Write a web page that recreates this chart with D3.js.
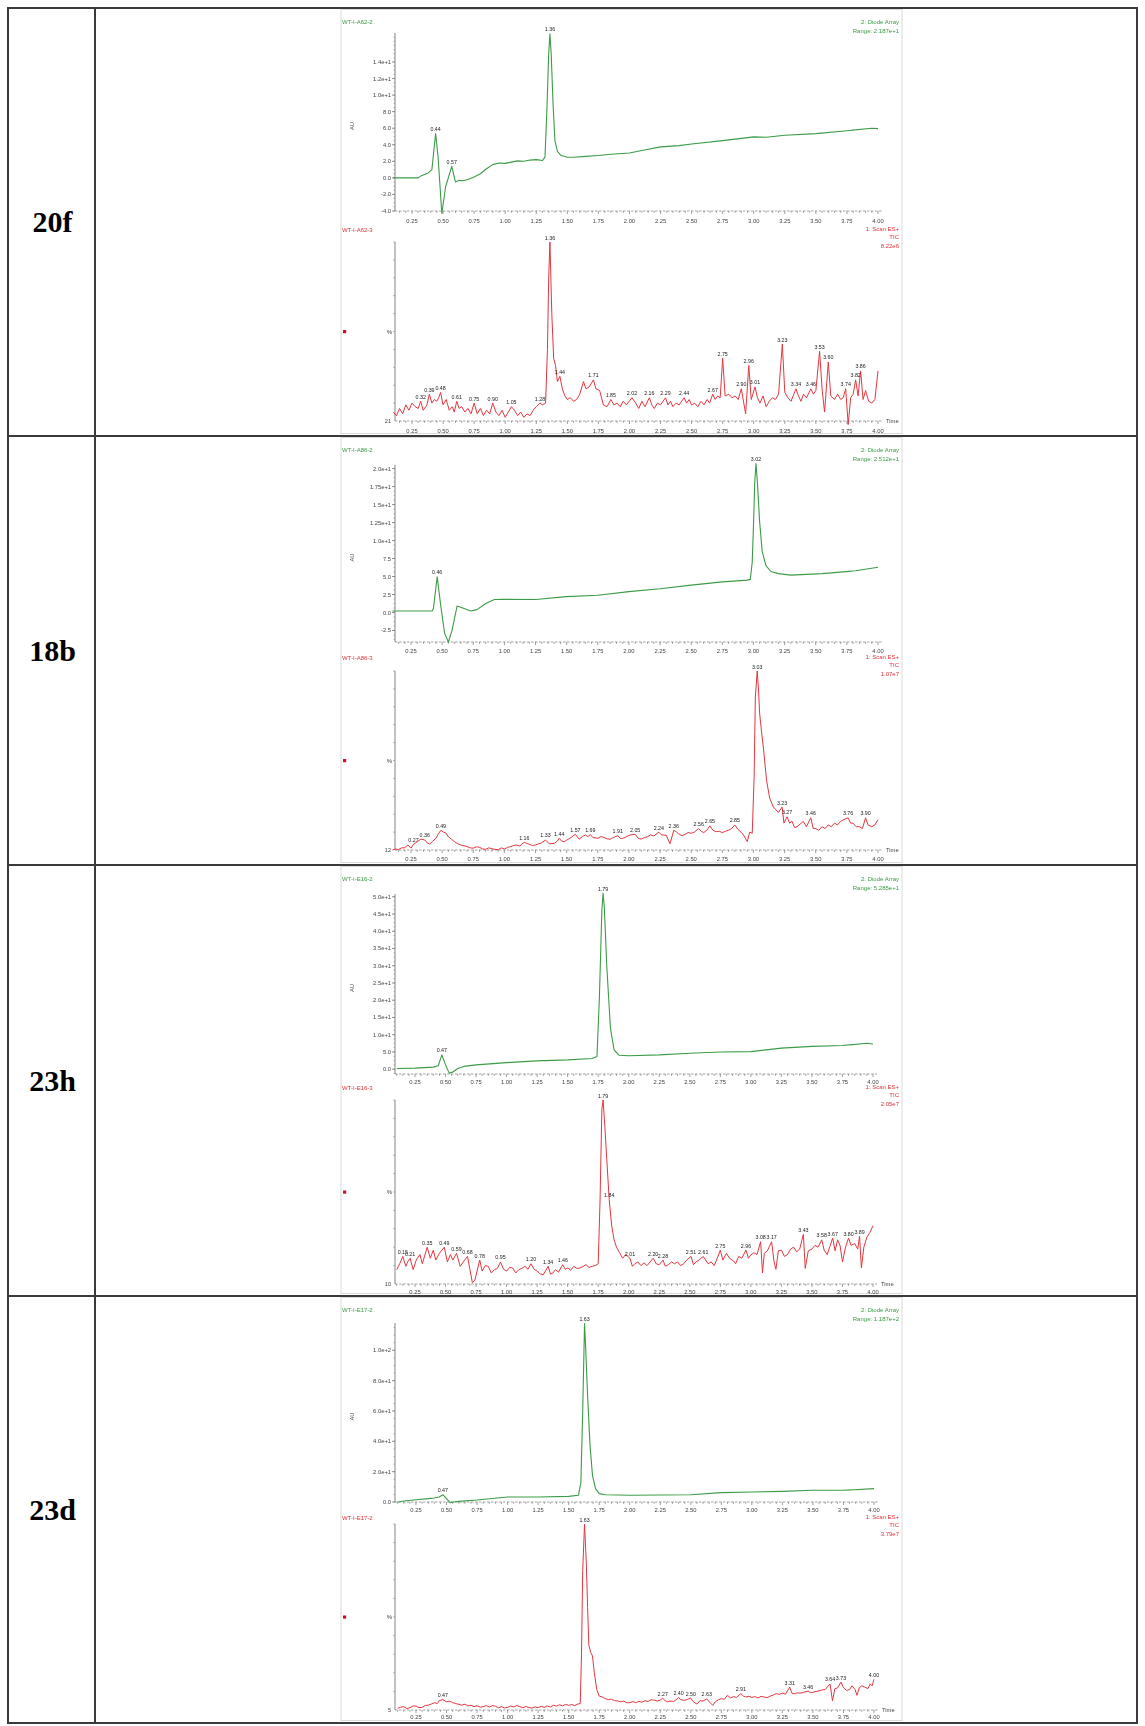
<!DOCTYPE html>
<html>
<head>
<meta charset="utf-8">
<script src="https://cdn.jsdelivr.net/npm/d3@7"></script>
<style>
  html, body { margin: 0; padding: 0; background: #fff; }
  svg { display: block; }
</style>
</head>
<body>
<svg id="fig" width="1145" height="1726"></svg>
<script>
// ---------------- data ----------------
const compounds = ["20f", "18b", "23h", "23d"];
const uvNames  = ["WT-I-A62-2", "WT-I-A86-2", "WT-I-E16-2", "WT-I-E17-2"];
const ticNames = ["WT-I-A62-3", "WT-I-A86-3", "WT-I-E16-3", "WT-I-E17-2"];
const uvRanges = ["2.187e+1", "2.512e+1", "5.285e+1", "1.187e+2"];
const ticMaxima = ["8.22e6", "1.07e7", "2.05e7", "3.79e7"];
const ticMinima = ["21", "12", "10", "5"];

const timeTicks = [0.25, 0.50, 0.75, 1.00, 1.25, 1.50, 1.75, 2.00, 2.25, 2.50, 2.75, 3.00, 3.25, 3.50, 3.75, 4.00];

// UV (diode array) axis ticks
const uvTicks20f = [14, 12, 10, 8, 6, 4, 2, 0, -2, -4];
const uvTickText20f = ["1.4e+1", "1.2e+1", "1.0e+1", "8.0", "6.0", "4.0", "2.0", "0.0", "-2.0", "-4.0"];
const uvTicks18b = [20, 17.5, 15, 12.5, 10, 7.5, 5, 2.5, 0, -2.5];
const uvTickText18b = ["2.0e+1", "1.75e+1", "1.5e+1", "1.25e+1", "1.0e+1", "7.5", "5.0", "2.5", "0.0", "-2.5"];
const uvTicks23h = [50, 45, 40, 35, 30, 25, 20, 15, 10, 5, 0];
const uvTickText23h = ["5.0e+1", "4.5e+1", "4.0e+1", "3.5e+1", "3.0e+1", "2.5e+1", "2.0e+1", "1.5e+1", "1.0e+1", "5.0", "0.0"];
const uvTicks23d = [100, 80, 60, 40, 20, 0];
const uvTickText23d = ["1.0e+2", "8.0e+1", "6.0e+1", "4.0e+1", "2.0e+1", "0.0"];

// UV traces [time (min), AU]
const uv20f = [[0.10,0.0],[0.30,0.0],[0.33,0.3],[0.38,0.6],[0.41,1.0],[0.44,5.35],[0.46,2.5],[0.49,-4.3],[0.52,-1.1],[0.57,1.4],[0.60,-0.5],[0.63,-0.3],[0.66,-0.35],[0.70,-0.2],[0.75,0.1],[0.80,0.5],[0.85,1.1],[0.90,1.6],[0.95,1.8],[1.00,1.75],[1.05,1.9],[1.10,2.05],[1.15,2.0],[1.20,2.15],[1.25,2.2],[1.30,2.1],[1.32,2.5],[1.335,8],[1.35,15],[1.36,17.4],[1.37,15],[1.385,9],[1.40,4.5],[1.42,3.2],[1.45,2.7],[1.50,2.5],[1.55,2.5],[1.65,2.6],[1.75,2.7],[1.85,2.85],[2.00,3.0],[2.10,3.3],[2.25,3.75],[2.40,3.9],[2.50,4.1],[2.75,4.5],[3.00,4.95],[3.10,4.9],[3.25,5.15],[3.50,5.35],[3.75,5.7],[3.95,6.0],[4.00,5.95]];
const uv18b = [[0.10,0.2],[0.42,0.2],[0.43,0.55],[0.46,4.95],[0.49,0.8],[0.52,-2.9],[0.55,-4.1],[0.58,-2.45],[0.62,0.9],[0.66,0.65],[0.73,0.2],[0.78,0.4],[0.85,1.25],[0.92,1.8],[1.00,1.85],[1.25,1.8],[1.50,2.2],[1.75,2.4],[2.00,2.9],[2.25,3.3],[2.50,3.8],[2.75,4.25],[2.95,4.5],[2.975,4.6],[2.99,7],[3.00,12],[3.01,18],[3.02,20.7],[3.03,18.5],[3.05,12.5],[3.07,8.5],[3.10,6.5],[3.14,5.7],[3.20,5.4],[3.30,5.2],[3.55,5.4],[3.82,5.8],[4.00,6.3]];
const uv23h = [[0.10,0.2],[0.25,0.3],[0.40,0.6],[0.44,1.0],[0.47,4.15],[0.50,1.25],[0.53,-1.15],[0.56,-0.8],[0.60,0.2],[0.65,0.8],[0.75,1.25],[1.00,1.9],[1.25,2.4],[1.50,2.7],[1.70,3.1],[1.74,3.7],[1.76,21],[1.78,46],[1.79,51],[1.80,47],[1.82,30],[1.85,12],[1.88,5.6],[1.92,4.05],[2.00,3.9],[2.25,4.15],[2.50,4.6],[2.75,5.0],[3.00,5.1],[3.25,6.1],[3.50,6.6],[3.75,6.85],[3.95,7.5],[4.00,7.3]];
const uv23d = [[0.10,0.0],[0.15,0.7],[0.25,1.5],[0.35,2.2],[0.40,2.6],[0.44,3.3],[0.47,4.8],[0.50,2.2],[0.53,-0.4],[0.56,0.0],[0.60,0.4],[0.75,1.3],[1.00,3.3],[1.25,3.3],[1.50,3.7],[1.58,4.4],[1.60,13],[1.615,60],[1.63,117.6],[1.64,100],[1.655,70],[1.675,37],[1.695,17.6],[1.72,8.8],[1.75,5.5],[1.80,4.8],[2.00,4.4],[2.50,4.8],[2.75,6.2],[3.00,6.6],[3.25,7.0],[3.50,7.7],[3.75,7.7],[4.00,8.8]];

// TIC traces [time (min), % of base peak]
const tic20f = [[0.10,5],[0.125,3],[0.15,7],[0.175,4],[0.20,9],[0.225,6],[0.25,10],[0.275,8],[0.30,7],[0.32,11],[0.34,6],[0.36,8],[0.37,9],[0.39,15],[0.41,10],[0.43,12],[0.45,11],[0.465,13],[0.48,16],[0.50,9],[0.525,12],[0.55,6],[0.575,8],[0.59,5],[0.61,11],[0.63,7],[0.65,8],[0.675,5],[0.70,7],[0.725,4],[0.75,10],[0.775,4],[0.80,7],[0.825,3],[0.85,6],[0.875,4],[0.90,10],[0.925,5],[0.95,3],[0.975,6],[1.00,2],[1.025,5],[1.05,8],[1.075,6],[1.10,3],[1.125,5],[1.15,2],[1.175,4],[1.20,3],[1.225,6],[1.25,8],[1.28,10],[1.30,9],[1.325,10],[1.34,40],[1.35,80],[1.36,100],[1.375,60],[1.39,35],[1.405,31],[1.42,22],[1.44,25],[1.46,18],[1.48,14],[1.50,12],[1.525,13],[1.55,11],[1.575,12],[1.60,15],[1.63,22],[1.65,18],[1.675,19],[1.71,23],[1.73,18],[1.76,17],[1.79,9],[1.82,8],[1.85,12],[1.875,9],[1.90,10],[1.925,8],[1.95,11],[1.975,9],[2.02,13],[2.05,10],[2.075,7],[2.10,11],[2.125,8],[2.16,13],[2.18,9],[2.20,7],[2.225,10],[2.25,9],[2.29,13],[2.31,9],[2.33,11],[2.35,8],[2.375,10],[2.40,9],[2.44,13],[2.46,10],[2.48,12],[2.50,9],[2.525,10],[2.55,8],[2.575,11],[2.60,9],[2.625,12],[2.645,10],[2.67,15],[2.69,12],[2.71,14],[2.73,13],[2.75,35],[2.77,14],[2.80,15],[2.825,13],[2.85,14],[2.875,12],[2.90,18],[2.92,10],[2.935,4],[2.96,31],[2.98,12],[3.01,19],[3.03,13],[3.05,10],[3.075,14],[3.10,8],[3.125,11],[3.15,13],[3.175,12],[3.20,15],[3.23,43],[3.25,16],[3.275,13],[3.30,11],[3.34,18],[3.36,14],[3.38,11],[3.40,15],[3.425,13],[3.46,18],[3.48,15],[3.50,17],[3.53,39],[3.55,18],[3.57,5],[3.60,33],[3.62,14],[3.65,12],[3.675,15],[3.70,12],[3.72,13],[3.74,18],[3.76,-2],[3.78,13],[3.80,15],[3.82,23],[3.84,14],[3.86,28],[3.88,12],[3.90,17],[3.925,11],[3.95,10],[3.975,12],[4.00,28]];
const tic18b = [[0.10,0],[0.125,0.5],[0.15,0.3],[0.175,1.2],[0.20,1.3],[0.225,2.8],[0.25,1],[0.27,3.2],[0.30,4.6],[0.33,6.1],[0.36,5.6],[0.38,4],[0.40,3.3],[0.425,5],[0.45,6.5],[0.47,9],[0.49,11],[0.51,10],[0.53,9.5],[0.55,7.4],[0.575,6],[0.60,4.6],[0.625,3.5],[0.65,2.8],[0.675,2.4],[0.70,1.9],[0.725,1.2],[0.75,1],[0.775,1.8],[0.80,1.5],[0.825,0.6],[0.85,0.4],[0.875,1.2],[0.90,0.7],[0.925,0.3],[0.95,0.2],[0.975,1.2],[1.00,0.5],[1.025,1.5],[1.05,1.9],[1.075,2.5],[1.10,2.8],[1.125,2.2],[1.14,3.3],[1.16,4.3],[1.18,3.7],[1.20,3.2],[1.225,2.5],[1.25,2.8],[1.275,3.5],[1.30,4],[1.33,5.6],[1.36,3.5],[1.40,3.7],[1.425,5],[1.44,6.5],[1.46,5],[1.48,4.6],[1.50,5.5],[1.525,6.5],[1.55,7.8],[1.57,8.8],[1.60,6],[1.625,7.5],[1.65,8.4],[1.67,7.5],[1.69,8.6],[1.71,7],[1.75,6.5],[1.775,7.5],[1.80,7],[1.825,6.2],[1.85,6],[1.875,7],[1.91,8],[1.93,6.5],[1.95,6.5],[1.975,7.2],[2.00,8.2],[2.05,8.8],[2.075,6.5],[2.10,6.1],[2.125,7],[2.15,7.4],[2.175,8.5],[2.20,7.8],[2.24,10],[2.26,8.5],[2.30,8.2],[2.33,3.5],[2.36,11],[2.38,10.2],[2.40,9],[2.425,8],[2.45,8.7],[2.475,9.8],[2.50,9.3],[2.525,10],[2.56,12],[2.58,10.5],[2.60,9.7],[2.625,11],[2.65,13.5],[2.675,11],[2.70,10.2],[2.725,10.5],[2.75,9.7],[2.775,10.5],[2.80,11],[2.825,12],[2.85,14],[2.875,11.5],[2.90,10],[2.92,8.4],[2.95,4.7],[2.97,10],[2.99,9.3],[3.005,40],[3.015,85],[3.03,100],[3.04,90],[3.05,76],[3.065,66],[3.08,57],[3.105,39],[3.13,29],[3.16,24],[3.20,21],[3.23,24],[3.245,15],[3.27,18.6],[3.29,15],[3.31,16],[3.33,12.5],[3.35,13],[3.375,14.5],[3.40,16],[3.425,13],[3.46,18],[3.48,12],[3.50,12],[3.525,11],[3.55,13],[3.575,12],[3.60,14],[3.625,13],[3.65,15],[3.675,14],[3.70,16],[3.725,17],[3.76,18],[3.78,15],[3.80,15],[3.825,13],[3.85,13],[3.875,12],[3.90,18],[3.92,14],[3.95,13],[3.975,14],[4.00,17]];
const tic23h = [[0.10,7.8],[0.125,11],[0.15,15],[0.175,9.6],[0.19,12],[0.21,14],[0.235,7.8],[0.26,13],[0.29,16],[0.31,11],[0.35,20],[0.375,14],[0.40,18.4],[0.42,13],[0.45,16.7],[0.49,20],[0.515,12],[0.54,16],[0.56,13],[0.59,16.7],[0.62,9.6],[0.645,12],[0.68,15],[0.70,7.8],[0.72,0.7],[0.74,2],[0.78,13],[0.80,7],[0.825,10],[0.85,9.6],[0.875,6],[0.90,7.8],[0.925,8.5],[0.95,12],[0.975,8],[1.00,7],[1.025,9],[1.05,8.7],[1.075,6],[1.10,7.8],[1.125,8.5],[1.15,9.6],[1.175,8],[1.20,11],[1.225,8],[1.25,7],[1.275,5.5],[1.30,5],[1.34,9.6],[1.36,5.3],[1.38,6],[1.40,7.8],[1.425,6.5],[1.46,10.5],[1.48,8],[1.50,8.7],[1.525,7.5],[1.55,9.6],[1.575,8.5],[1.60,8.7],[1.625,9.5],[1.65,10.5],[1.675,9],[1.70,9.6],[1.725,10],[1.75,11],[1.765,45],[1.78,95],[1.79,100],[1.805,85],[1.82,68],[1.84,46],[1.86,32],[1.88,24],[1.90,20],[1.925,17],[1.95,14],[1.975,16],[2.01,14],[2.03,9.6],[2.05,11],[2.075,12],[2.10,10],[2.125,11.5],[2.15,10],[2.175,12],[2.20,14],[2.225,11],[2.25,10.5],[2.28,13],[2.30,9.6],[2.325,10.5],[2.35,12],[2.375,11],[2.40,12],[2.425,10],[2.45,11],[2.475,13],[2.51,15],[2.53,10.5],[2.55,12],[2.575,13],[2.61,15],[2.63,13],[2.65,11],[2.675,12],[2.70,10],[2.725,14],[2.75,18.4],[2.77,13],[2.80,16.7],[2.825,14],[2.85,13],[2.875,11],[2.90,15],[2.925,14],[2.96,18.4],[2.98,14],[3.00,15.8],[3.025,17],[3.05,16],[3.08,23],[3.095,6],[3.11,16.7],[3.135,18],[3.17,23],[3.19,12],[3.205,8],[3.225,18],[3.25,18.4],[3.275,15],[3.30,16],[3.325,19],[3.35,20],[3.375,17.5],[3.40,19],[3.43,27],[3.445,8.5],[3.47,18],[3.50,19],[3.525,21],[3.55,20],[3.58,24],[3.60,18.4],[3.625,16],[3.65,21],[3.67,25],[3.69,18],[3.71,24],[3.73,21],[3.75,12],[3.775,20],[3.80,25],[3.82,21],[3.85,22],[3.875,19],[3.89,26],[3.905,8.7],[3.925,20],[3.95,25.5],[3.975,28],[4.00,31.7]];
const tic23d = [[0.10,0.9],[0.125,1.5],[0.15,1.8],[0.175,0.8],[0.20,1.2],[0.225,2.2],[0.25,2.1],[0.275,1.3],[0.30,1.4],[0.325,2.4],[0.35,2.6],[0.375,3.2],[0.40,3.9],[0.425,3.5],[0.44,5.0],[0.47,5.6],[0.50,4.4],[0.525,4.8],[0.55,3.9],[0.575,3.5],[0.60,3],[0.625,2.6],[0.65,3.1],[0.675,2.2],[0.70,2.5],[0.725,1.8],[0.75,2.3],[0.775,1.5],[0.80,1.8],[0.825,2.4],[0.85,1.6],[0.875,2.3],[0.90,2.1],[0.925,1.2],[0.95,1.8],[0.975,1.1],[1.00,1.4],[1.025,2.2],[1.05,1.6],[1.075,2.4],[1.10,1.8],[1.125,1.2],[1.15,1.9],[1.175,1.3],[1.20,1],[1.225,1.7],[1.25,1.2],[1.275,2.0],[1.30,1.4],[1.325,2.2],[1.35,1.6],[1.375,2.6],[1.40,2.1],[1.425,2.8],[1.45,2.2],[1.475,3.0],[1.50,2.5],[1.525,2.9],[1.55,2.4],[1.575,3.2],[1.595,3.5],[1.605,30],[1.615,75],[1.63,100],[1.645,78],[1.655,55],[1.665,35],[1.68,31],[1.695,29],[1.71,20],[1.73,11],[1.75,7.5],[1.775,7],[1.80,6.1],[1.825,5.6],[1.85,5.8],[1.875,5],[1.90,4.9],[1.925,4.4],[1.95,4.8],[1.975,3.9],[2.00,3.9],[2.025,4.5],[2.05,4.0],[2.075,4.6],[2.10,4.2],[2.125,5.0],[2.15,4.6],[2.175,5.5],[2.20,5.3],[2.225,4.8],[2.25,5.4],[2.27,6.3],[2.29,5.0],[2.31,4.4],[2.33,4.8],[2.36,4.6],[2.38,5.5],[2.40,6.7],[2.42,5.5],[2.45,5.2],[2.475,5.8],[2.50,6.4],[2.52,4.5],[2.55,3.2],[2.575,5],[2.60,4.8],[2.63,6.0],[2.65,4.5],[2.68,2.5],[2.70,4.4],[2.725,5.5],[2.75,6.1],[2.775,5.8],[2.80,7.9],[2.825,6.5],[2.85,7.2],[2.875,6.8],[2.91,8.8],[2.93,7.5],[2.95,7],[2.975,7.4],[3.00,6.7],[3.025,7.2],[3.05,6.5],[3.075,7.3],[3.10,7],[3.125,6.6],[3.15,7.5],[3.175,8],[3.20,8.8],[3.225,8.4],[3.25,9.1],[3.275,8.5],[3.31,12.3],[3.33,8.8],[3.35,8.8],[3.375,9.2],[3.40,9.1],[3.425,9.5],[3.46,10.2],[3.48,9.3],[3.50,9.5],[3.525,10],[3.55,10.2],[3.575,10.8],[3.60,11],[3.64,14],[3.66,5],[3.68,11.5],[3.70,11.8],[3.73,15],[3.75,12],[3.775,10.5],[3.80,11],[3.82,13],[3.845,11],[3.86,7.9],[3.88,12],[3.90,13],[3.925,12.3],[3.95,11.5],[3.97,14],[3.985,13],[4.00,16.5]];

// labelled retention times
const uvPeaks20f = [0.44, 0.57, 1.36];
const uvPeaks18b = [0.46, 3.02];
const uvPeaks23h = [0.47, 1.79];
const uvPeaks23d = [0.47, 1.63];
const ticPeaks20f = [0.32,0.39,0.48,0.61,0.75,0.90,1.05,1.28,1.36,1.44,1.71,1.85,2.02,2.16,2.29,2.44,2.67,2.75,2.90,2.96,3.01,3.23,3.34,3.46,3.53,3.60,3.74,3.82,3.86];
const ticPeaks18b = [0.27,0.36,0.49,1.16,1.33,1.44,1.57,1.69,1.91,2.05,2.24,2.36,2.56,2.65,2.85,3.03,3.23,3.27,3.46,3.76,3.90];
const ticPeaks23h = [0.15,0.21,0.35,0.49,0.59,0.68,0.78,0.95,1.20,1.34,1.46,1.79,1.84,2.01,2.20,2.28,2.51,2.61,2.75,2.96,3.08,3.17,3.43,3.58,3.67,3.80,3.89];
const ticPeaks23d = [0.47,1.63,2.27,2.40,2.50,2.63,2.91,3.31,3.46,3.64,3.73,4.00];

// ---------------- layout ----------------
const panels = [
  { top: 8,    bottom: 436,  x0: 412, x1: 878, uvTop: 33,   uvBottom: 211,  uvGap: 12,  uvDomain: [-4.0, 17.5], ticHead: 231,  ticTop: 242,  ticBottom: 421,  tickGap: 11.5 },
  { top: 436,  bottom: 865,  x0: 411, x1: 878, uvTop: 465,  uvBottom: 642,  uvGap: 11,  uvDomain: [-4.1, 20.5], ticHead: 659,  ticTop: 671,  ticBottom: 850,  tickGap: 11 },
  { top: 865,  bottom: 1296, x0: 415, x1: 873, uvTop: 894,  uvBottom: 1074, uvGap: 9.5, uvDomain: [-1.4, 50.8], ticHead: 1089, ticTop: 1100, ticBottom: 1284, tickGap: 9.5 },
  { top: 1296, bottom: 1723, x0: 416, x1: 874, uvTop: 1323, uvBottom: 1502, uvGap: 10,  uvDomain: [0, 118],     ticHead: 1519, ticTop: 1524, ticBottom: 1710, tickGap: 9 }
];
const series = [
  { uv: uv20f, tic: tic20f, uvPeaks: uvPeaks20f, ticPeaks: ticPeaks20f, uvTicks: uvTicks20f, uvTickText: uvTickText20f },
  { uv: uv18b, tic: tic18b, uvPeaks: uvPeaks18b, ticPeaks: ticPeaks18b, uvTicks: uvTicks18b, uvTickText: uvTickText18b },
  { uv: uv23h, tic: tic23h, uvPeaks: uvPeaks23h, ticPeaks: ticPeaks23h, uvTicks: uvTicks23h, uvTickText: uvTickText23h },
  { uv: uv23d, tic: tic23d, uvPeaks: uvPeaks23d, ticPeaks: ticPeaks23d, uvTicks: uvTicks23d, uvTickText: uvTickText23d }
];

const TABLE_L = 8, TABLE_R = 1137, COL_X = 95;
const IMG_L = 341, IMG_R = 902, Y_AXIS_X = 395;
const GREEN = "#3d9b47", GREEN_TXT = "#3a9a44", RED = "#e2363f", RED_TXT = "#e0303a";
const SANS = "'Liberation Sans', Arial, sans-serif";

const svg = d3.select("#fig");
svg.append("rect").attr("width", 1145).attr("height", 1726).attr("fill", "#fff");

const defs = svg.append("defs");
defs.append("filter").attr("id", "soft")
  .attr("x", "-2%").attr("y", "-2%").attr("width", "104%").attr("height", "104%")
  .append("feGaussianBlur").attr("stdDeviation", 0.35);

// ---------------- table ----------------
const rowEdges = [panels[0].top].concat(panels.map(p => p.bottom));

compounds.forEach((c, i) => {
  const p = panels[i];
  svg.append("text")
    .attr("x", (TABLE_L + COL_X) / 2 + 1)
    .attr("y", (p.top + p.bottom) / 2 + 10)
    .attr("text-anchor", "middle")
    .attr("font-family", "'Liberation Serif', 'Times New Roman', serif")
    .attr("font-weight", "bold")
    .attr("font-size", 30)
    .attr("fill", "#000")
    .text(c);
});

// ---------------- chromatograms ----------------
function pointAt(data, t) {
  return data.reduce((best, d) => Math.abs(d[0] - t) < Math.abs(best[0] - t) ? d : best, data[0]);
}

function timeAxis(g, x, yAxis, xEnd, gap) {
  g.append("line").attr("x1", Y_AXIS_X).attr("x2", xEnd).attr("y1", yAxis).attr("y2", yAxis)
    .attr("stroke", "#8a8a8a").attr("stroke-width", 0.8).attr("stroke-dasharray", "2.5,1.5");
  const minor = d3.range(0, 81).map(k => 0.05 * k).filter(t => x(t) >= Y_AXIS_X && x(t) <= xEnd);
  g.selectAll(null).data(minor).join("line")
    .attr("x1", d => x(d)).attr("x2", d => x(d))
    .attr("y1", yAxis).attr("y2", d => yAxis + (Math.abs(d * 4 - Math.round(d * 4)) < 1e-6 ? 3 : 1.8))
    .attr("stroke", "#777").attr("stroke-width", 0.7);
  g.selectAll(null).data(timeTicks).join("text")
    .attr("x", d => x(d)).attr("y", yAxis + gap)
    .attr("text-anchor", "middle").attr("font-family", SANS).attr("font-size", 5.8)
    .attr("fill", "#444").text(d => d.toFixed(2));
}

function peakLabels(g, x, y, data, peaks) {
  g.selectAll(null).data(peaks).join("text")
    .attr("x", t => x(t))
    .attr("y", t => y(pointAt(data, t)[1]) - 2.5)
    .attr("text-anchor", "middle").attr("font-family", SANS).attr("font-size", 5.3)
    .attr("fill", "#222").text(t => t.toFixed(2));
}

panels.forEach((p, i) => {
  const s = series[i];

  // white picture frame
  svg.append("rect").attr("x", IMG_L).attr("y", p.top + 1.5)
    .attr("width", IMG_R - IMG_L).attr("height", p.bottom - p.top - 4)
    .attr("fill", "#fff").attr("stroke", "#dadada").attr("stroke-width", 1);

  const g = svg.append("g").attr("filter", "url(#soft)");
  const x = d3.scaleLinear().domain([0.25, 4.0]).range([p.x0, p.x1]);
  const xEnd = p.x1 + 4;

  // ---- UV (diode array) trace ----
  const yU = d3.scaleLinear().domain(p.uvDomain).range([p.uvBottom, p.uvTop]);
  g.append("text").attr("x", IMG_L + 1).attr("y", p.top + 16)
    .attr("font-family", SANS).attr("font-size", 6).attr("fill", GREEN_TXT).text(uvNames[i]);
  g.append("text").attr("x", IMG_R - 3).attr("y", p.top + 16).attr("text-anchor", "end")
    .attr("font-family", SANS).attr("font-size", 6).attr("fill", GREEN_TXT).text("2: Diode Array");
  g.append("text").attr("x", IMG_R - 3).attr("y", p.top + 25).attr("text-anchor", "end")
    .attr("font-family", SANS).attr("font-size", 6).attr("fill", GREEN_TXT).text("Range: " + uvRanges[i]);
  g.append("text")
    .attr("transform", `translate(${IMG_L + 13},${(p.uvTop + p.uvBottom) / 2 + 4}) rotate(-90)`)
    .attr("text-anchor", "middle").attr("font-family", SANS).attr("font-size", 5.8).attr("fill", "#444").text("AU");

  g.append("line").attr("x1", Y_AXIS_X).attr("x2", Y_AXIS_X).attr("y1", p.uvTop).attr("y2", p.uvBottom)
    .attr("stroke", "#777").attr("stroke-width", 0.9);
  const step = Math.abs(s.uvTicks[0] - s.uvTicks[1]);
  const minorUV = d3.range(p.uvDomain[0], p.uvDomain[1], step / 4)
    .map(v => Math.round(v / (step / 4)) * (step / 4))
    .filter(v => yU(v) <= p.uvBottom && yU(v) >= p.uvTop);
  g.selectAll(null).data(minorUV).join("line")
    .attr("x1", Y_AXIS_X - 1.5).attr("x2", Y_AXIS_X).attr("y1", d => yU(d)).attr("y2", d => yU(d))
    .attr("stroke", "#888").attr("stroke-width", 0.6);
  g.selectAll(null).data(s.uvTicks).join("line")
    .attr("x1", Y_AXIS_X - 3).attr("x2", Y_AXIS_X).attr("y1", d => yU(d)).attr("y2", d => yU(d))
    .attr("stroke", "#777").attr("stroke-width", 0.8);
  g.selectAll(null).data(s.uvTicks).join("text")
    .attr("x", Y_AXIS_X - 4).attr("y", d => yU(d) + 2)
    .attr("text-anchor", "end").attr("font-family", SANS).attr("font-size", 5.8).attr("fill", "#444")
    .text((d, k) => s.uvTickText[k]);
  timeAxis(g, x, p.uvBottom, xEnd, p.uvGap);

  g.append("path").datum(s.uv)
    .attr("d", d3.line().x(d => x(d[0])).y(d => yU(d[1])))
    .attr("fill", "none").attr("stroke", GREEN).attr("stroke-width", 1.1).attr("stroke-linejoin", "round");
  peakLabels(g, x, yU, s.uv, s.uvPeaks);

  // ---- TIC (MS scan) trace ----
  const yT = d3.scaleLinear().domain([0, 100]).range([p.ticBottom, p.ticTop]);
  g.append("text").attr("x", IMG_L + 1).attr("y", p.ticHead + 1)
    .attr("font-family", SANS).attr("font-size", 6).attr("fill", RED_TXT).text(ticNames[i]);
  [["1: Scan ES+", 0], ["TIC", 8.3], [ticMaxima[i], 16.6]].forEach(([txt, dy]) => {
    g.append("text").attr("x", IMG_R - 3).attr("y", p.ticHead + dy).attr("text-anchor", "end")
      .attr("font-family", SANS).attr("font-size", 6).attr("fill", RED_TXT).text(txt);
  });
  const midT = (p.ticTop + p.ticBottom) / 2;
  g.append("rect").attr("x", IMG_L + 2).attr("y", midT - 1.5).attr("width", 3.2).attr("height", 3.2).attr("fill", "#d0102a");
  g.append("text").attr("x", Y_AXIS_X - 3).attr("y", midT + 2).attr("text-anchor", "end")
    .attr("font-family", SANS).attr("font-size", 6).attr("fill", "#444").text("%");
  g.append("text").attr("x", Y_AXIS_X - 4).attr("y", p.ticBottom + 2).attr("text-anchor", "end")
    .attr("font-family", SANS).attr("font-size", 5.6).attr("fill", "#444").text(ticMinima[i]);

  g.append("line").attr("x1", Y_AXIS_X).attr("x2", Y_AXIS_X).attr("y1", p.ticTop).attr("y2", p.ticBottom)
    .attr("stroke", "#777").attr("stroke-width", 0.9);
  g.selectAll(null).data(d3.range(10, 101, 10)).join("line")
    .attr("x1", Y_AXIS_X - 2).attr("x2", Y_AXIS_X).attr("y1", d => yT(d)).attr("y2", d => yT(d))
    .attr("stroke", "#888").attr("stroke-width", 0.6);
  timeAxis(g, x, p.ticBottom, xEnd, p.tickGap);
  g.append("text").attr("x", xEnd + 4).attr("y", p.ticBottom + 2)
    .attr("font-family", SANS).attr("font-size", 5.8).attr("fill", "#444").text("Time");

  g.append("path").datum(s.tic)
    .attr("d", d3.line().x(d => x(d[0])).y(d => yT(d[1])))
    .attr("fill", "none").attr("stroke", RED).attr("stroke-width", 1).attr("stroke-linejoin", "round");
  peakLabels(g, x, yT, s.tic, s.ticPeaks);
});

// table rules drawn last so they sit above the picture frames
const table = svg.append("g").attr("stroke", "#3a3a3a").attr("stroke-width", 2).attr("fill", "none");
table.append("rect").attr("x", TABLE_L).attr("y", rowEdges[0])
  .attr("width", TABLE_R - TABLE_L).attr("height", rowEdges[rowEdges.length - 1] - rowEdges[0]);
table.append("line").attr("x1", COL_X).attr("x2", COL_X).attr("y1", rowEdges[0]).attr("y2", rowEdges[rowEdges.length - 1]);
rowEdges.slice(1, -1).forEach(y => {
  table.append("line").attr("x1", TABLE_L).attr("x2", TABLE_R).attr("y1", y).attr("y2", y);
});
</script>
</body>
</html>
